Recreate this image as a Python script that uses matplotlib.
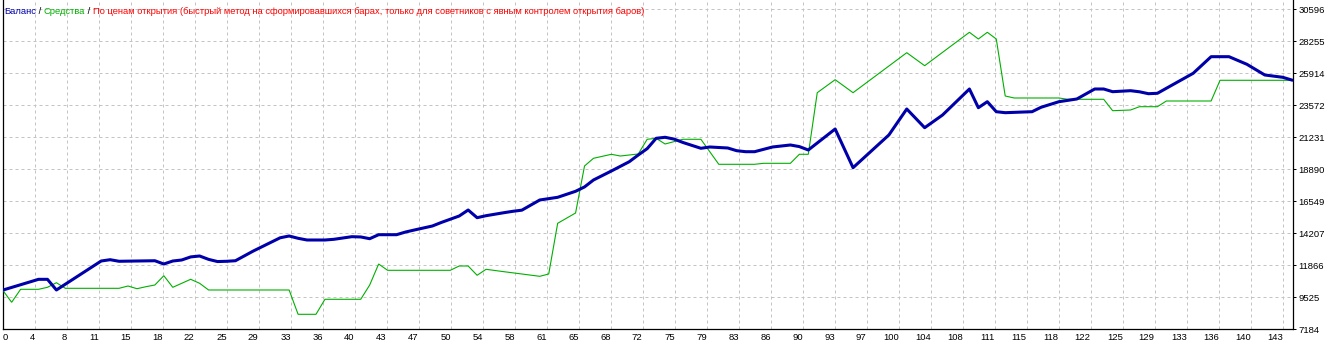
import matplotlib
matplotlib.use('Agg')
import matplotlib.pyplot as plt
import numpy as np

# ---------------- data ----------------
balance_idx = [0, 4, 5, 6, 11, 12, 13, 17, 18, 19, 20, 21, 22, 23, 24, 25, 26, 28, 31, 32,
               33, 34, 36, 37, 39, 40, 41, 42, 44, 45, 46, 48, 49, 51, 52, 53, 54, 56, 57, 58,
               60, 62, 64, 65, 66, 68, 70, 71, 72, 73, 74, 75, 76, 78, 79, 81, 82, 83, 84, 86,
               88, 89, 90, 93, 95, 99, 101, 103, 105, 108, 109, 110, 111, 112, 115, 116, 118, 120, 122, 123,
               124, 126, 127, 128, 129, 131, 133, 135, 137, 139, 141, 143, 144]
balance_val = [10050, 10840, 10840, 10060, 12180, 12276, 12160, 12200, 11960, 12180, 12254, 12480, 12547, 12300, 12140, 12159, 12200, 12912, 13880, 14010,
               13842, 13717, 13717, 13768, 13959, 13940, 13812, 14105, 14105, 14300, 14450, 14741, 15000, 15473, 15912, 15349, 15495, 15715, 15817, 15900,
               16644, 16841, 17280, 17600, 18107, 18765, 19445, 19935, 20400, 21157, 21231, 21100, 20850, 20426, 20521, 20448, 20250, 20177, 20177, 20521,
               20668, 20550, 20302, 21838, 19007, 21399, 23301, 21933, 22862, 24764, 23396, 23835, 23103, 23031, 23103, 23426, 23835, 24033, 24764, 24764,
               24567, 24640, 24560, 24420, 24450, 25182, 25914, 27128, 27128, 26571, 25789, 25621, 25423]

equity_idx = [0, 1, 2, 4, 5, 6, 7, 13, 14, 15, 16, 17, 18, 19, 21, 22, 23, 32, 33, 35,
              36, 40, 41, 42, 43, 50, 51, 52, 53, 54, 56, 58, 60, 61, 62, 64, 65, 66, 68, 69,
              71, 72, 73, 74, 76, 78, 80, 84, 85, 88, 89, 90, 91, 93, 95, 101, 103, 108, 109, 110,
              111, 112, 113, 118, 119, 123, 124, 126, 127, 129, 130, 135, 136, 144]
equity_val = [10050, 9159, 10110, 10110, 10256, 10593, 10183, 10183, 10352, 10154, 10300, 10425, 11105, 10256, 10842, 10549, 10060, 10060, 8281, 8281,
              9380, 9380, 10425, 11961, 11500, 11500, 11815, 11815, 11135, 11573, 11398, 11230, 11061, 11230, 14939, 15692, 19131, 19694, 19987, 19862,
              20009, 21085, 21157, 20741, 21085, 21085, 19255, 19255, 19328, 19328, 19987, 19987, 24494, 25445, 24494, 27420, 26469, 28912, 28422, 28912,
              28422, 24252, 24106, 24106, 24011, 24011, 23176, 23228, 23469, 23469, 23886, 23886, 25401, 25401]

x_tick_labels = [0, 4, 8, 11, 15, 18, 22, 25, 29, 33, 36, 40, 43, 47, 50, 54, 58, 61, 65, 68,
                 72, 75, 79, 83, 86, 90, 93, 97, 100, 104, 108, 111, 115, 118, 122, 125, 129, 133, 136, 140, 143]
y_tick_labels = [7184, 9525, 11866, 14207, 16549, 18890, 21231, 23572, 25914, 28255, 30596]

title_parts = ["Баланс", " / ", "Средства", " / ",
               "По ценам открытия (быстрый метод на сформировавшихся барах, только для советников с явным контролем открытия баров)"]

# ---------------- styling ----------------
W, H = 1339, 343
BLUE = '#0000AA'
GREEN = '#00B000'
RED = '#FF0000'
GRID = '#C4C4C4'
FONT = 'Liberation Sans'

fig = plt.figure(figsize=(W / 100, H / 100), dpi=100)
fig.patch.set_facecolor('white')
ax_left, ax_right, ax_bottom, ax_top = 2.7, 1293.0, 329.3, 0.0
ax = fig.add_axes([ax_left / W, (H - ax_bottom) / H, (ax_right - ax_left) / W, (ax_bottom - ax_top) / H])

ax.plot(equity_idx, equity_val, color=GREEN, linewidth=0.8, solid_joinstyle='miter', zorder=3)
ax.plot(balance_idx, balance_val, color=BLUE, linewidth=2.2, solid_joinstyle='round', zorder=4)

ax.set_xlim(0, 144.15)
ax.set_ylim(7184, 31275)

xt = np.linspace(0, x_tick_labels[-1], len(x_tick_labels))
ax.set_xticks(xt)
ax.set_xticklabels([str(v) for v in x_tick_labels], fontfamily=FONT, fontsize=6.8)
for i, lab in enumerate(ax.get_xticklabels()):
    lab.set_ha('left' if i == 0 else 'right')
ax.set_yticks(y_tick_labels)
ax.set_yticklabels([str(v) for v in y_tick_labels], fontfamily=FONT, fontsize=6.8)
ax.yaxis.tick_right()
ax.tick_params(axis='y', length=2.5, width=0.72, pad=1.5, colors='black')
ax.tick_params(axis='x', length=0, pad=2.5, colors='black')

ax.grid(True, color=GRID, linestyle=(0, (3, 3)), linewidth=0.72, zorder=1)
ax.set_axisbelow(True)

for s in ['left', 'right', 'bottom']:
    ax.spines[s].set_color('black')
    ax.spines[s].set_linewidth(0.9)
ax.spines['top'].set_visible(False)

# ---------------- multi-coloured title ----------------
colors = [BLUE, 'black', GREEN, 'black', RED]
fig.canvas.draw()
renderer = fig.canvas.get_renderer()
x_px = 4.0
for txt, c in zip(title_parts, colors):
    t = fig.text(x_px / W, (H - 13.5) / H, txt, color=c, fontsize=6.75, fontfamily=FONT,
                 va='baseline', ha='left')
    bb = t.get_window_extent(renderer=renderer)
    x_px += bb.width

fig.savefig('out.png', dpi=100, facecolor='white')
